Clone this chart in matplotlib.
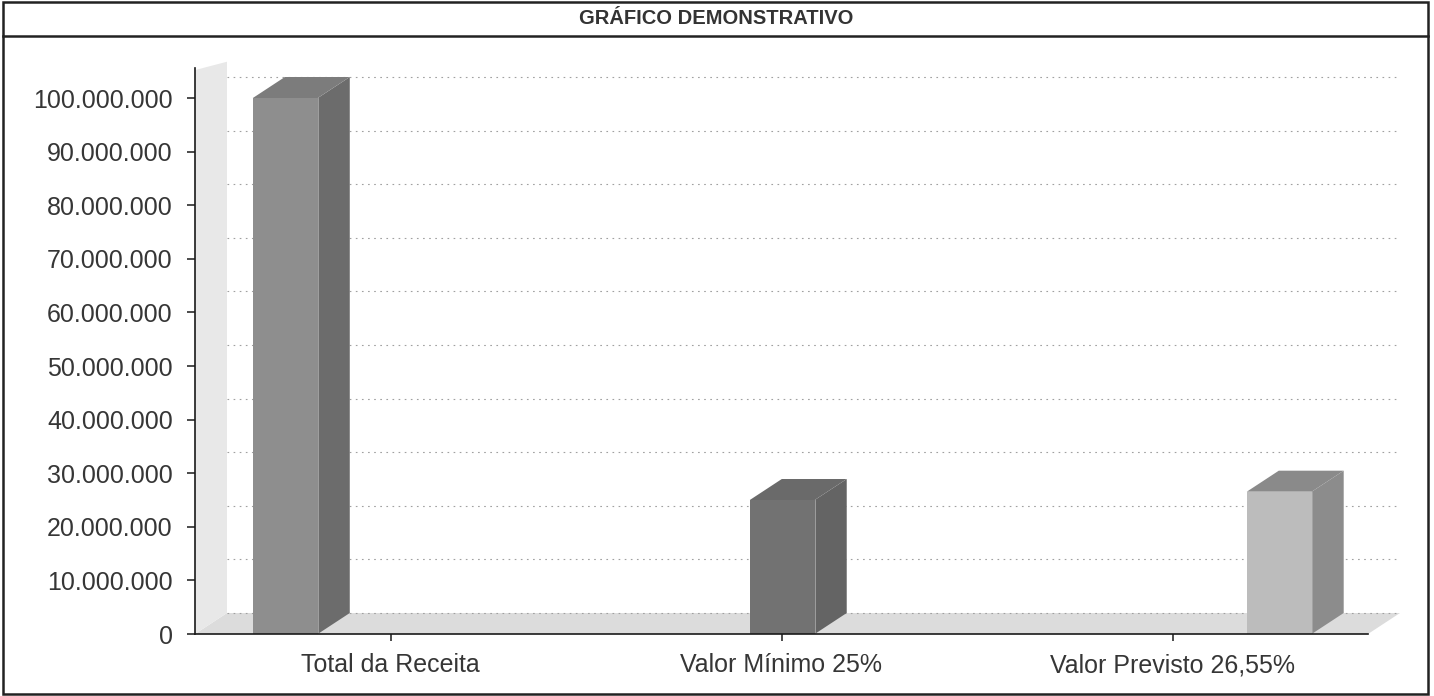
import matplotlib
matplotlib.use("Agg")
import matplotlib.pyplot as plt
from matplotlib.patches import Polygon, Rectangle
from matplotlib.lines import Line2D

# ---- data ----
categories = ["Total da Receita", "Valor Mínimo 25%", "Valor Previsto 26,55%"]
values = [100_000_000, 25_000_000, 26_550_000]
ytick_values = [0, 10_000_000, 20_000_000, 30_000_000, 40_000_000, 50_000_000,
                60_000_000, 70_000_000, 80_000_000, 90_000_000, 100_000_000]
ytick_labels = ["0", "10.000.000", "20.000.000", "30.000.000", "40.000.000",
                "50.000.000", "60.000.000", "70.000.000", "80.000.000",
                "90.000.000", "100.000.000"]
title = "GRÁFICO DEMONSTRATIVO"

# ---- style ----
plt.rcParams['font.family'] = ['Liberation Sans', 'DejaVu Sans']
W, H = 1434, 696
fig = plt.figure(figsize=(W / 100, H / 100), dpi=100)

x0_px, x1_px = 195, 1368
y0_px, ytop_px = 634, 68
ax = fig.add_axes([x0_px / W, (H - y0_px) / H, (x1_px - x0_px) / W, (y0_px - ytop_px) / H])
px_per_M = 5.36
ymax = (y0_px - ytop_px) / px_per_M * 1e6
ax.set_xlim(0, 3)
ax.set_ylim(0, ymax)

unit_px = (x1_px - x0_px) / 3
dx = 32 / unit_px
dy = 21 / px_per_M * 1e6

text_color = "#363636"

# floor
ax.add_patch(Polygon([(0, 0), (3, 0), (3 + dx, dy), (dx, dy)], closed=True,
                     facecolor="#dcdcdc", edgecolor="none", zorder=1, clip_on=False))
# left wall
ax.add_patch(Polygon([(0, 0), (dx, dy), (dx, ymax + dy * 0.3), (0, ymax - dy * 0.1)], closed=True,
                     facecolor="#e8e8e8", edgecolor="none", zorder=1, clip_on=False))

# gridlines on back wall
for v in ytick_values:
    ax.plot([dx, 3 + dx], [v + dy, v + dy], color="#a0a0a0", lw=0.8,
            linestyle=(0, (1.5, 4)), zorder=2, clip_on=False)

# bars (3D look)
offsets = [0.148, 0.419, 0.690]
bw = 0.166
front_cols = ["#8e8e8e", "#727272", "#bcbcbc"]
side_cols = ["#6c6c6c", "#646464", "#8c8c8c"]
top_cols = ["#7c7c7c", "#6a6a6a", "#8a8a8a"]
for i, v in enumerate(values):
    l = i + offsets[i]
    r = l + bw
    ax.add_patch(Polygon([(r, 0), (r + dx, dy), (r + dx, v + dy), (r, v)], closed=True,
                         facecolor=side_cols[i], edgecolor="none", zorder=3, clip_on=False))
    ax.add_patch(Polygon([(l, v), (l + dx, v + dy), (r + dx, v + dy), (r, v)], closed=True,
                         facecolor=top_cols[i], edgecolor="none", zorder=3, clip_on=False))
    ax.add_patch(Rectangle((l, 0), bw, v, facecolor=front_cols[i], edgecolor="none",
                           zorder=4, clip_on=False))
    ax.plot([r, r], [0, v], color="#a8a8a8", lw=0.6, zorder=5)

# axes styling
for s in ["top", "right"]:
    ax.spines[s].set_visible(False)
for s in ["left", "bottom"]:
    ax.spines[s].set_color("#1a1a1a")
    ax.spines[s].set_linewidth(1.2)
    ax.spines[s].set_zorder(6)
ax.set_facecolor("none")

ax.set_yticks(ytick_values)
ax.set_yticklabels(ytick_labels)
ax.set_xticks([0.5, 1.5, 2.5])
ax.set_xticklabels(categories)
ax.tick_params(axis="y", length=6, width=1.1, color="#1a1a1a", pad=10,
               labelsize=18, labelcolor=text_color)
ax.tick_params(axis="x", length=5, width=1.1, color="#1a1a1a", pad=9,
               labelsize=18, labelcolor=text_color)

# outer frame and title band
fig.add_artist(Rectangle((3 / W, 2 / H), (1428 - 3) / W, (694 - 2) / H,
                         transform=fig.transFigure, fill=False,
                         edgecolor="#222222", lw=1.8))
fig.add_artist(Line2D([3 / W, 1428 / W], [1 - 36 / H, 1 - 36 / H],
                      transform=fig.transFigure, color="#222222", lw=1.8))
fig.text(716 / W, 1 - 18.5 / H, title, ha="center", va="center",
         fontsize=14.5, fontweight="bold", color="#333333")

fig.savefig("out.png", dpi=100)
